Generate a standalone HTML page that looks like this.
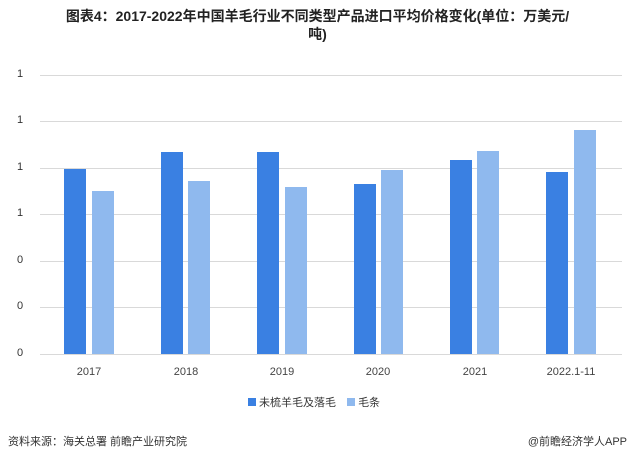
<!DOCTYPE html>
<html><head><meta charset="utf-8"><style>
body{margin:0;width:635px;height:461px;background:#fff;position:relative;font-family:"Liberation Sans","Noto Sans CJK SC",sans-serif;overflow:hidden}
.t{position:absolute;left:0;width:635px;text-align:center;font-weight:bold;font-size:14px;color:#222;line-height:17px}
.g{position:absolute;left:40px;width:582px;height:1px;background:#d9d9d9}
.y{position:absolute;left:14px;font-size:11px;color:#333;width:12px;text-align:center}
.b{position:absolute;width:22px}
.d{background:#3a80e2}.l{background:#8fb9ee}
.x{position:absolute;top:366px;font-size:11px;color:#444;width:80px;text-align:center}
</style></head><body>
<div class="t" style="top:8px">图表4：2017-2022年中国羊毛行业不同类型产品进口平均价格变化(单位：万美元/</div>
<div class="t" style="top:26px">吨)</div>
<div class="g" style="top:75px"></div><div class="g" style="top:121px"></div><div class="g" style="top:168px"></div><div class="g" style="top:214px"></div><div class="g" style="top:261px"></div><div class="g" style="top:307px"></div><div class="g" style="top:354px"></div>
<div class="y" style="top:68px">1</div><div class="y" style="top:114px">1</div><div class="y" style="top:161px">1</div><div class="y" style="top:207px">1</div><div class="y" style="top:254px">0</div><div class="y" style="top:300px">0</div><div class="y" style="top:347px">0</div>
<div class="b d" style="left:64px;top:169px;height:185px"></div><div class="b l" style="left:92px;top:191px;height:163px"></div>
<div class="b d" style="left:161px;top:152px;height:202px"></div><div class="b l" style="left:188px;top:181px;height:173px"></div>
<div class="b d" style="left:257px;top:152px;height:202px"></div><div class="b l" style="left:285px;top:187px;height:167px"></div>
<div class="b d" style="left:354px;top:184px;height:170px"></div><div class="b l" style="left:381px;top:170px;height:184px"></div>
<div class="b d" style="left:450px;top:160px;height:194px"></div><div class="b l" style="left:477px;top:151px;height:203px"></div>
<div class="b d" style="left:546px;top:172px;height:182px"></div><div class="b l" style="left:574px;top:130px;height:224px"></div>
<div class="x" style="left:49px">2017</div><div class="x" style="left:146px">2018</div><div class="x" style="left:242px">2019</div><div class="x" style="left:338px">2020</div><div class="x" style="left:435px">2021</div><div class="x" style="left:531px">2022.1-11</div>
<div style="position:absolute;top:394px;left:248px;font-size:11px;color:#333"><span style="display:inline-block;width:8px;height:8px;background:#3a80e2;margin-right:3px"></span>未梳羊毛及落毛 <span style="display:inline-block;width:8px;height:8px;background:#8fb9ee;margin:0 3px 0 8px"></span>毛条</div>
<div style="position:absolute;left:8px;top:433px;font-size:11px;color:#333">资料来源：海关总署 前瞻产业研究院</div>
<div style="position:absolute;right:8px;top:433px;font-size:11px;color:#333">@前瞻经济学人APP</div>
</body></html>
